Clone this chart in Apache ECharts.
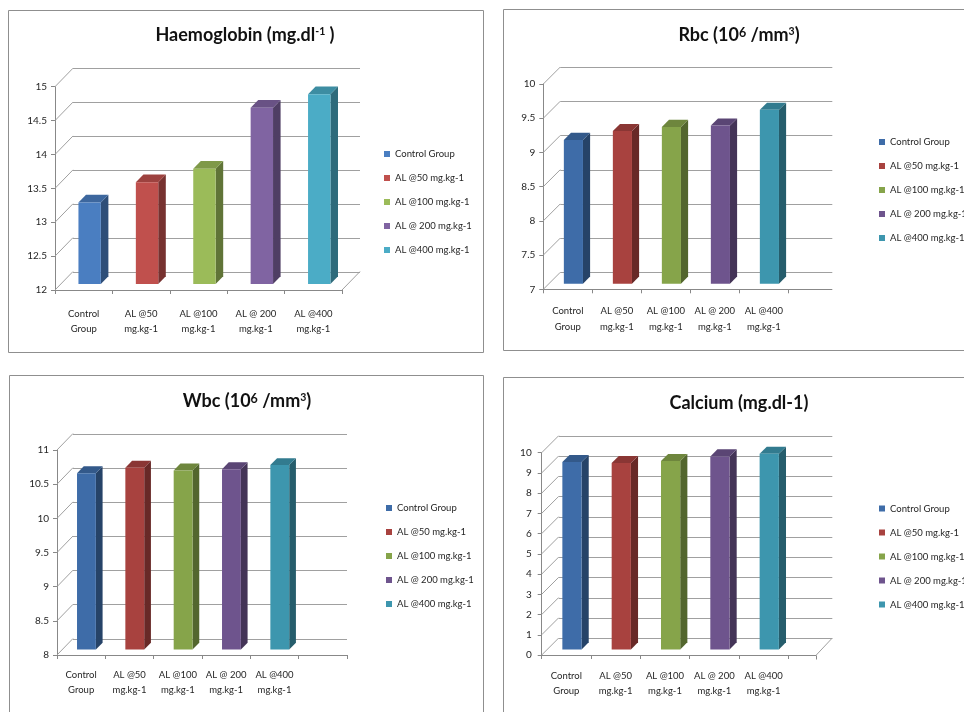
<!DOCTYPE html>
<html>
<head>
<meta charset="utf-8">
<script src="https://cdn.jsdelivr.net/npm/echarts@6/dist/echarts.min.js"></script>
<style>
  html, body { margin: 0; padding: 0; background: #ffffff; }
  #chart { width: 964px; height: 712px; }
</style>
</head>
<body>
<div id="chart"></div>
<script>
// Treatment groups (legend names and two-line axis labels)
const groups = ['Control Group', 'AL @50 mg.kg-1', 'AL @100 mg.kg-1', 'AL @ 200 mg.kg-1', 'AL @400 mg.kg-1'];
const groupLabels = ['Control\nGroup', 'AL @50\nmg.kg-1', 'AL @100\nmg.kg-1', 'AL @ 200\nmg.kg-1', 'AL @400\nmg.kg-1'];

// Blood parameters per group
const haemoglobin = [13.2, 13.5, 13.7, 14.6, 14.8];
const rbc = [9.1, 9.23, 9.29, 9.31, 9.54];
const wbc = [10.58, 10.66, 10.62, 10.64, 10.7];
const calcium = [9.26, 9.21, 9.31, 9.54, 9.67];

// Value-axis tick labels
const hbTicks = [12, 12.5, 13, 13.5, 14, 14.5, 15];
const rbcTicks = [7, 7.5, 8, 8.5, 9, 9.5, 10];
const wbcTicks = [8, 8.5, 9, 9.5, 10, 10.5, 11];
const caTicks = [0, 1, 2, 3, 4, 5, 6, 7, 8, 9, 10];

// Palettes
const brightColors = ['#4a7ec1', '#c0504d', '#9bbb59', '#8064a2', '#4bacc6'];
const deepColors = ['#3e6ca8', '#a8423f', '#86a44a', '#6e548d', '#3d96ae'];

const FONT = 'Lato';
const LINE = '#a0a0a0';
const AXIS = '#888888';
const TEXT = '#262626';
const SMALL = 9.5;

// Panel layout: frame, title, plot box (front plane), 3D depth offset
const panels = [
  {
    values: haemoglobin, ticks: hbTicks, colors: brightColors, slots: 5,
    title: 'Haemoglobin (mg.dl{s|-1} )', titleX: 245, titleY: 35,
    frame: [8, 10, 475, 342],
    grid: { left: 55, top: 86.7, width: 287, height: 203.3 },
    dx: 18, dy: -18.5, frontExt: 0, backExt: 18, rightDiag: true, endTick: false,
    legend: { left: 384, top: 147 }, yLabelMargin: 8, xLabelMargin: 16
  },
  {
    values: rbc, ticks: rbcTicks, colors: deepColors, slots: 5,
    title: 'Rbc (10{b|6} /mm{s|3})', titleX: 739, titleY: 35.5,
    frame: [503, 9, 480, 341],
    grid: { left: 543.3, top: 84, width: 245, height: 205.3 },
    dx: 17, dy: -17, frontExt: 44, backExt: 44, rightDiag: false, endTick: false,
    legend: { left: 879, top: 135 }, yLabelMargin: 8, xLabelMargin: 14
  },
  {
    values: wbc, ticks: wbcTicks, colors: deepColors, slots: 6,
    title: 'Wbc (10{b|6} /mm{s|3})', titleX: 247, titleY: 401.5,
    frame: [9, 375, 474, 360],
    grid: { left: 57, top: 450, width: 290, height: 205 },
    dx: 16, dy: -16.5, frontExt: 0, backExt: 0, rightDiag: false, endTick: false,
    legend: { left: 386, top: 501 }, yLabelMargin: 8, xLabelMargin: 12
  },
  {
    values: calcium, ticks: caTicks, colors: deepColors, slots: 5,
    title: 'Calcium (mg.dl-1)', titleX: 739, titleY: 403.5,
    frame: [503, 377, 480, 360],
    grid: { left: 541.7, top: 452.7, width: 246.6, height: 202.3 },
    dx: 17, dy: -17, frontExt: 28, backExt: 44, rightDiag: true, endTick: true,
    legend: { left: 879, top: 501.5 }, yLabelMargin: 10, xLabelMargin: 13
  }
];

function darken(hex, k) {
  const n = parseInt(hex.slice(1), 16);
  const r = Math.round(((n >> 16) & 255) * k);
  const g = Math.round(((n >> 8) & 255) * k);
  const b = Math.round((n & 255) * k);
  return 'rgb(' + r + ',' + g + ',' + b + ')';
}

const crisp = v => Math.round(v) + 0.5;

// Extruded column: front face, top face and right side face
function barRenderer(p) {
  return function (params, api) {
    const idx = api.value(0);
    const val = api.value(1);
    const top = api.coord([idx, val]);
    const base = api.coord([idx, p.ticks[0]]);
    const band = api.size([1, 0])[0];
    const w = band * 0.39;
    const ox = p.dx * 0.33, oy = p.dy * 0.33;
    const ddx = p.dx * 0.42, ddy = p.dy * 0.42;
    const xl = top[0] - w / 2 + ox, xr = xl + w;
    const yt = top[1] + oy, yb = base[1] + oy;
    const col = api.visual('color');
    return {
      type: 'group',
      children: [
        { type: 'polygon', shape: { points: [[xr, yt], [xr + ddx, yt + ddy], [xr + ddx, yb + ddy], [xr, yb]] },
          style: { fill: darken(col, 0.62) } },
        { type: 'polygon', shape: { points: [[xl, yt], [xr, yt], [xr + ddx, yt + ddy], [xl + ddx, yt + ddy]] },
          style: { fill: darken(col, 0.82) } },
        { type: 'rect', shape: { x: xl, y: yt, width: w, height: yb - yt }, style: { fill: col } }
      ]
    };
  };
}

// Side-wall diagonals, back-wall gridlines and floor edges
function wallRenderer(p) {
  return function (params, api) {
    const cs = params.coordSys;
    const v = api.value(1);
    const y = api.coord([0, v])[1];
    const x0 = cs.x, gr = cs.x + cs.width;
    const st = { stroke: LINE, lineWidth: 1, fill: null };
    const yb = crisp(y + p.dy);
    const kids = [
      { type: 'line', shape: { x1: x0, y1: y, x2: x0 + p.dx, y2: y + p.dy }, style: st },
      { type: 'line', shape: { x1: x0 + p.dx, y1: yb, x2: gr + p.backExt, y2: yb }, style: st }
    ];
    if (v === p.ticks[0]) {
      const yf = crisp(y);
      const fr = gr + p.frontExt;
      if (p.frontExt > 0) {
        kids.push({ type: 'line', shape: { x1: gr, y1: yf, x2: fr, y2: yf }, style: { stroke: AXIS, lineWidth: 1 } });
      }
      if (p.endTick) {
        kids.push({ type: 'line', shape: { x1: crisp(fr), y1: yf, x2: crisp(fr), y2: yf + 4 }, style: { stroke: AXIS, lineWidth: 1 } });
      }
      if (p.rightDiag) {
        kids.push({ type: 'line', shape: { x1: fr, y1: y, x2: gr + p.backExt, y2: y + p.dy }, style: st });
      }
    }
    return { type: 'group', children: kids };
  };
}

const option = {
  animation: false,
  backgroundColor: '#ffffff',
  title: [], legend: [], grid: [], xAxis: [], yAxis: [], series: [],
  graphic: []
};

panels.forEach(function (p, k) {
  const t = p.ticks;
  option.graphic.push({
    type: 'rect', silent: true, z: 0,
    shape: { x: p.frame[0] + 0.5, y: p.frame[1] + 0.5, width: p.frame[2], height: p.frame[3] },
    style: { fill: null, stroke: '#8f8f8f', lineWidth: 1 }
  });

  option.title.push({
    text: p.title, left: p.titleX, top: p.titleY, padding: 0,
    textAlign: 'center', textVerticalAlign: 'middle',
    textStyle: {
      fontFamily: FONT, fontWeight: 'bold', fontSize: 18, color: '#111',
      rich: {
        s: { fontFamily: FONT, fontWeight: 'bold', fontSize: 10.5, color: '#111', verticalAlign: 'top', lineHeight: 12 },
        b: { fontFamily: FONT, fontWeight: 'bold', fontSize: 12.5, color: '#111', verticalAlign: 'top', lineHeight: 12 }
      }
    }
  });

  option.legend.push({
    orient: 'vertical', left: p.legend.left, top: p.legend.top, padding: 0,
    icon: 'rect', itemWidth: 6, itemHeight: 6, itemGap: 10, selectedMode: false,
    textStyle: { fontFamily: FONT, fontSize: SMALL, color: TEXT, lineHeight: 14 },
    data: groups.map(function (g, i) { return { name: g, itemStyle: { color: p.colors[i] } }; })
  });

  option.grid.push(Object.assign({ containLabel: false }, p.grid));

  const cats = groupLabels.slice();
  while (cats.length < p.slots) cats.push('');

  option.xAxis.push({
    type: 'category', gridIndex: k, data: cats, boundaryGap: true,
    axisLine: { show: true, onZero: false, lineStyle: { color: AXIS, width: 1 } },
    axisTick: { show: true, length: 4, lineStyle: { color: AXIS } },
    axisLabel: { fontFamily: FONT, fontSize: SMALL, color: TEXT, lineHeight: 15.5, margin: p.xLabelMargin, interval: 0 },
    splitLine: { show: false }
  });

  option.yAxis.push({
    type: 'value', gridIndex: k, min: t[0], max: t[t.length - 1], interval: t[1] - t[0],
    axisLine: { show: true, onZero: false, lineStyle: { color: AXIS, width: 1 } },
    axisTick: { show: true, length: 4, lineStyle: { color: AXIS } },
    axisLabel: { fontFamily: FONT, fontSize: 10, color: TEXT, margin: p.yLabelMargin },
    splitLine: { show: false }
  });

  option.series.push({
    type: 'custom', name: 'walls-' + k, xAxisIndex: k, yAxisIndex: k, silent: true, z: 1,
    renderItem: wallRenderer(p),
    data: t.map(function (v) { return [0, v]; })
  });

  p.values.forEach(function (v, i) {
    option.series.push({
      type: 'custom', name: groups[i], xAxisIndex: k, yAxisIndex: k, z: 3,
      itemStyle: { color: p.colors[i] },
      renderItem: barRenderer(p),
      data: [[i, v]]
    });
  });
});

const chart = echarts.init(document.getElementById('chart'), null, { renderer: 'canvas' });
chart.setOption(option);
</script>
</body>
</html>
